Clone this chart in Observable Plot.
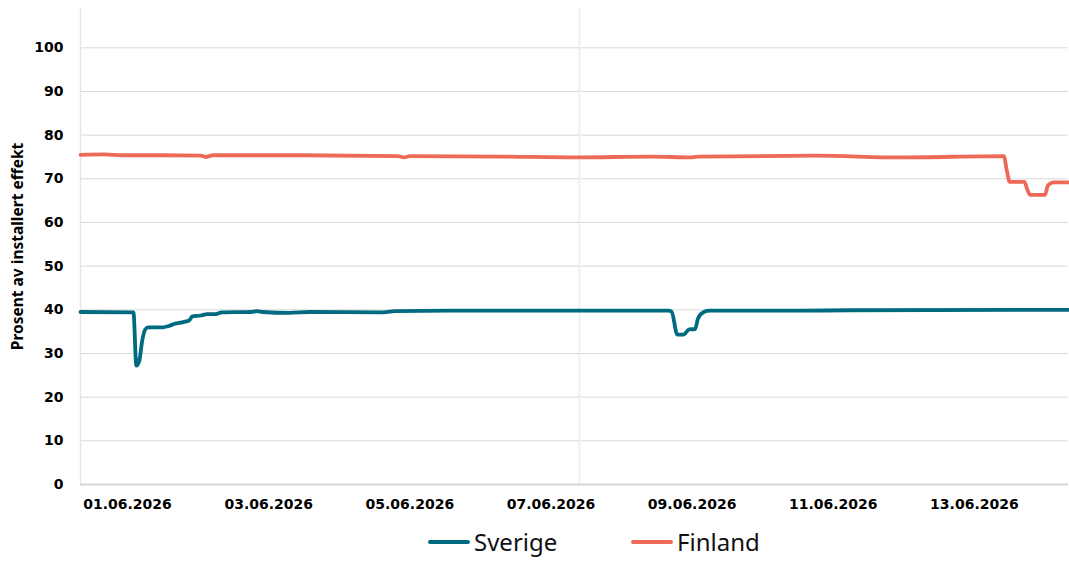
<!DOCTYPE html>
<html><head><meta charset="utf-8">
<script src="https://cdn.jsdelivr.net/npm/d3@7"></script>
<script src="https://cdn.jsdelivr.net/npm/@observablehq/plot@0.6"></script>
<style>
body{margin:0;background:#fff;width:1069px;height:561px;overflow:hidden}
#legend{position:relative;height:39px;font-family:"Noto Sans",sans-serif;font-size:24px;color:#111}
.item{position:absolute;top:0;height:39px;display:flex;align-items:center}
.sw{display:inline-block;width:42px;height:4px;border-radius:2px;margin-right:4px}
</style></head>
<body>
<div id="chart"></div>
<div id="legend"></div>
<script>
const seriesNames = ["Sverige", "Finland"];
const seriesColors = ["#006b80", "#ec6a57"];

const sverigeTime = ["2026-05-31T08:00","2026-06-01T02:00","2026-06-01T03:00","2026-06-01T04:00","2026-06-01T05:00","2026-06-01T06:00","2026-06-01T07:00","2026-06-01T12:00","2026-06-01T14:00","2026-06-01T16:00","2026-06-01T19:00","2026-06-01T21:00","2026-06-01T22:00","2026-06-02T01:00","2026-06-02T03:00","2026-06-02T06:00","2026-06-02T08:00","2026-06-02T18:00","2026-06-02T20:00","2026-06-02T22:00","2026-06-03T07:00","2026-06-03T14:00","2026-06-04T14:00","2026-06-04T19:00","2026-06-05T14:00","2026-06-07T03:00","2026-06-08T16:00","2026-06-08T17:00","2026-06-08T19:00","2026-06-08T21:00","2026-06-08T23:00","2026-06-09T01:00","2026-06-09T02:00","2026-06-09T04:00","2026-06-09T06:00","2026-06-10T13:00","2026-06-11T05:00","2026-06-14T08:00"];
const sverigeValues = [39.5,39.4,27.2,28.3,33.0,35.5,36.0,36.0,36.3,36.8,37.2,37.6,38.5,38.7,39.0,39.0,39.4,39.5,39.7,39.5,39.3,39.5,39.4,39.7,39.8,39.8,39.8,39.6,34.3,34.3,35.5,35.6,38.0,39.5,39.8,39.8,39.9,40.0];

const finlandTime = ["2026-05-31T08:00","2026-05-31T16:00","2026-05-31T22:00","2026-06-01T11:00","2026-06-02T01:00","2026-06-02T02:30","2026-06-02T05:00","2026-06-03T11:00","2026-06-04T20:00","2026-06-04T22:00","2026-06-05T00:00","2026-06-06T07:00","2026-06-07T09:00","2026-06-08T10:00","2026-06-09T00:00","2026-06-09T02:00","2026-06-10T18:00","2026-06-11T23:00","2026-06-13T10:00","2026-06-13T11:00","2026-06-13T12:00","2026-06-13T17:00","2026-06-13T18:00","2026-06-13T19:00","2026-06-14T00:00","2026-06-14T01:00","2026-06-14T03:00","2026-06-14T08:00"];
const finlandValues = [75.5,75.6,75.4,75.4,75.3,75.0,75.4,75.4,75.2,74.9,75.2,75.1,74.9,75.1,74.9,75.1,75.3,74.9,75.2,72.0,69.3,69.3,67.5,66.3,66.3,68.5,69.2,69.2];

const xDomain = ["2026-05-31T08:00","2026-06-14T08:00"];
const xTickDates = ["2026-06-01","2026-06-03","2026-06-05","2026-06-07","2026-06-09","2026-06-11","2026-06-13"];
const yTicks = [0,10,20,30,40,50,60,70,80,90,100];
const markerTime = ["2026-06-07T09:40"];
const yTitle = "Prosent av installert effekt";

const P = s => new Date(s + (s.length > 10 ? "Z" : "T00:00Z"));
const data = [
  ...sverigeTime.map((t,i)=>({date:P(t), value:sverigeValues[i], series:"Sverige"})),
  ...finlandTime.map((t,i)=>({date:P(t), value:finlandValues[i], series:"Finland"}))
];
const fmt = d3.utcFormat("%d.%m.%Y");

const chart = Plot.plot({
  width: 1069, height: 522,
  marginLeft: 80, marginRight: 1, marginTop: 8, marginBottom: 38,
  x: {type: "utc", domain: xDomain.map(P)},
  y: {domain: [0, 109]},
  color: {domain: seriesNames, range: seriesColors},
  style: {fontFamily: "DejaVu Sans", fontWeight: "bold", fontSize: "14px", color: "#000", background: "#fff"},
  marks: [
    Plot.gridY(yTicks.filter(d=>d>0), {stroke: "#d9d9d9", strokeOpacity: 1}),
    Plot.ruleX([P(xDomain[0])], {stroke: "#e6e6e6", strokeWidth: 1.5}),
    Plot.ruleX(markerTime.map(P), {stroke: "#eeeeee", strokeWidth: 2}),
    Plot.ruleY([0], {stroke: "#d6d6d6", strokeWidth: 2}),
    Plot.axisY(yTicks, {tickSize: 0, tickPadding: 17, label: null}),
    Plot.axisX(xTickDates.map(P), {tickSize: 0, tickPadding: 15, label: null, tickFormat: fmt}),
    Plot.line(data, {x: "date", y: "value", z: "series", stroke: "series", strokeWidth: 3.8, curve: "monotone-x"}),
    Plot.text([yTitle], {frameAnchor: "left", textAnchor: "middle", rotate: -90, dx: -62, fontFamily: "Noto Sans", fontWeight: "bold", fontSize: 15.5, fill: "#000"})
  ]
});
document.getElementById("chart").appendChild(chart);

const legend = document.getElementById("legend");
const legendX = [428, 631];
seriesNames.forEach((n,i)=>{
  const el = document.createElement("div");
  el.className = "item";
  el.style.left = legendX[i] + "px";
  el.innerHTML = `<span class="sw" style="background:${seriesColors[i]}"></span><span>${n}</span>`;
  legend.appendChild(el);
});
</script>
</body></html>
